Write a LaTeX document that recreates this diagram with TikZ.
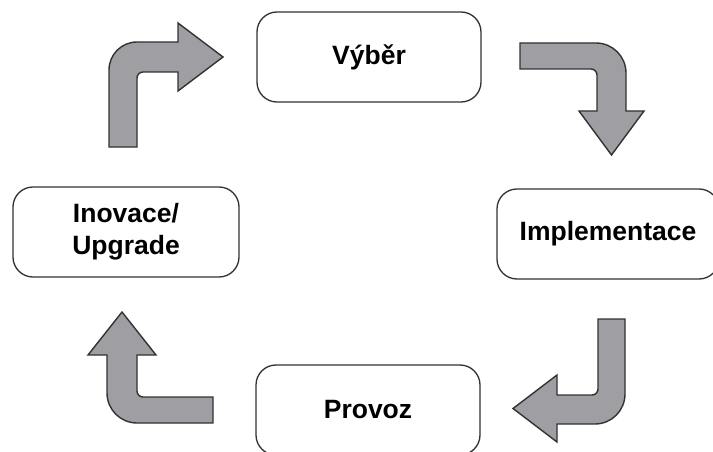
\documentclass[tikz,border=0pt]{standalone}
\usepackage{fontspec}
\setmainfont{Liberation Sans}
\definecolor{arrowfill}{RGB}{158,158,163}
\definecolor{edge}{RGB}{50,50,50}
\begin{document}
\begin{tikzpicture}[x=1pt,y=-1pt,
  stage/.style={draw=edge, line width=1.3pt, rounded corners=20pt,
    minimum width=224pt, minimum height=90pt, align=center,
    font=\fontsize{26.5}{32}\selectfont\bfseries, fill=white},
  bentarrow/.style={draw=edge, line width=1.4pt, fill=arrowfill, line join=miter}]
\useasboundingbox (0,0) rectangle (713,452);
\clip (0,0) rectangle (713,452);

% the four phases of the cycle
\node[stage] (vyber) at (369,57) {Výběr};
\node[stage, minimum width=222pt] (impl) at (608,234) {Implementace};
\node[stage] (provoz) at (368,410) {Provoz};
\node[stage, minimum width=226pt] (inovace) at (126,232) {\raisebox{-3pt}{Inovace/}\\\raisebox{-3pt}{Upgrade}};

% bent block arrows between the phases
% top right: towards Implementace
\draw[bentarrow] (520,43) -- (596,43) .. controls (612.6,43) and (626,56.4) .. (626,73)
  -- (626,111) -- (644,111) -- (611.5,155) -- (579,111) -- (597,111) -- (597,75)
  .. controls (597,71.7) and (594.3,69) .. (591,69) -- (520,69) -- cycle;
% bottom right: towards Provoz
\draw[bentarrow] (598,319) -- (625,319) -- (625,394) .. controls (625,410.6) and (611.6,424) .. (595,424)
  -- (557,424) -- (557,442) -- (513,408.5) -- (557,375) -- (557,395) -- (592,395)
  .. controls (595.3,395) and (598,392.3) .. (598,389) -- cycle;
% bottom left: towards Inovace/Upgrade
\draw[bentarrow] (213,397) -- (213,423) -- (137,423) .. controls (120.4,423) and (107,409.6) .. (107,393)
  -- (107,355) -- (88,355) -- (122,312) -- (156,355) -- (137,355) -- (137,391)
  .. controls (137,394.3) and (139.7,397) .. (143,397) -- cycle;
% top left: towards Výběr
\draw[bentarrow] (109,147) -- (109,70) .. controls (109,54.5) and (121.5,42) .. (137,42)
  -- (178,42) -- (178,23) -- (223,57) -- (178,91) -- (178,72) -- (143,72)
  .. controls (139.7,72) and (137,74.7) .. (137,78) -- (137,147) -- cycle;
\end{tikzpicture}
\end{document}
